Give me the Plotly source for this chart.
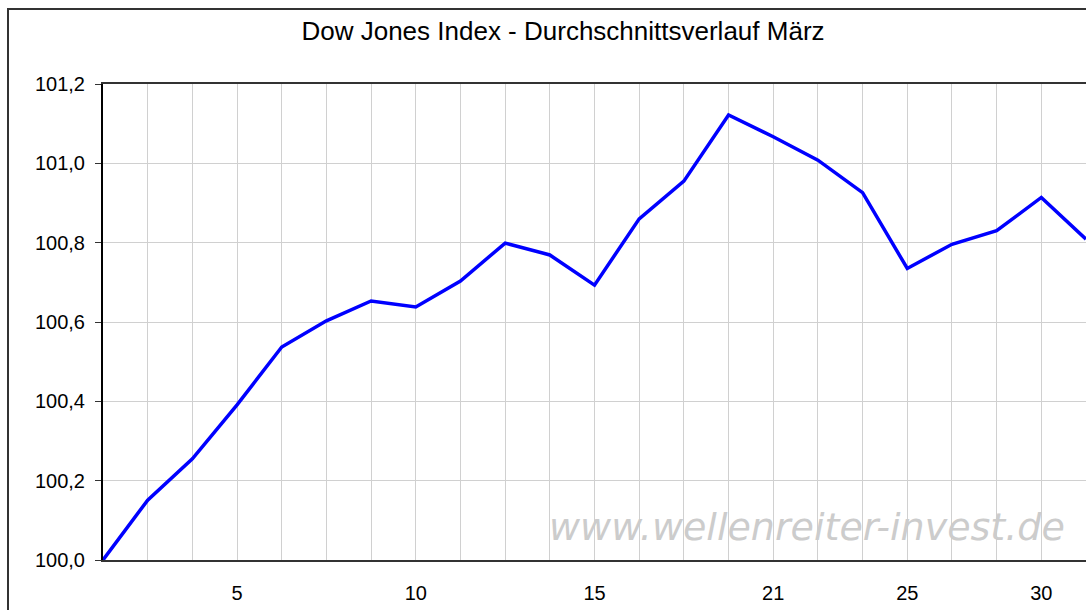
import plotly.graph_objects as go

# Data: average March course of the Dow Jones (index at start = 100)
day_index = list(range(23))
day_labels = ['', '', '', '5', '', '', '', '10', '', '', '', '15', '', '', '', '21',
              '', '', '25', '', '', '30', '']
values = [100.000, 100.151, 100.255, 100.391, 100.537, 100.603, 100.653, 100.638,
          100.703, 100.799, 100.769, 100.693, 100.860, 100.955, 101.122, 101.067,
          101.008, 100.926, 100.735, 100.796, 100.830, 100.914, 100.809]
y_ticks = [100.0, 100.2, 100.4, 100.6, 100.8, 101.0, 101.2]

fig = go.Figure()
fig.add_trace(go.Scatter(
    x=day_index, y=values, mode='lines',
    line=dict(color='#0000ff', width=3.5),
    showlegend=False, hoverinfo='skip', cliponaxis=False,
))

fig.update_layout(
    width=1086, height=610,
    margin=dict(l=103, r=0, t=84, b=50),
    paper_bgcolor='white', plot_bgcolor='white',
    separators=',.',
    font=dict(family='Liberation Sans, Arial, sans-serif', size=20, color='#000000'),
    title=dict(text='Dow Jones Index - Durchschnittsverlauf März',
               x=563 / 1086, xref='container', xanchor='center',
               y=1 - 31 / 610, yref='container', yanchor='middle',
               font=dict(size=26, color='#000000')),
)

fig.update_xaxes(
    range=[0, 22], tickmode='array', tickvals=day_index, ticktext=day_labels,
    showgrid=True, gridcolor='#d0d0d0', gridwidth=1,
    showline=True, linecolor='#333333', linewidth=2, mirror=True,
    ticks='', ticklabelstandoff=14, zeroline=False, fixedrange=True,
)
fig.update_yaxes(
    range=[100.0, 101.2], tickmode='array', tickvals=y_ticks, tickformat='.1f',
    showgrid=True, gridcolor='#d0d0d0', gridwidth=1,
    showline=True, linecolor='#000000', linewidth=2,
    ticks='outside', ticklen=6, tickcolor='#333333', tickwidth=1,
    ticklabelstandoff=6, zeroline=False, fixedrange=True,
)

# Outer chart border (cropped at right and bottom)
fig.add_shape(type='rect', xref='paper', yref='paper',
              x0=(8 - 103) / 983, x1=1.2, y0=-0.3, y1=(560 - 9) / 476,
              line=dict(color='#333333', width=2), layer='below')

# Watermark
fig.add_annotation(text='www.wellenreiter-invest.de', xref='paper', yref='paper',
                   x=(547 - 103) / 983, y=(560 - 527) / 476,
                   xanchor='left', yanchor='middle', showarrow=False,
                   font=dict(family='DejaVu Sans', size=38, color='#cccccc',
                             style='italic'))

fig.write_html('out.html', config={'displayModeBar': False},
               post_script="document.body.style.margin='0';")
